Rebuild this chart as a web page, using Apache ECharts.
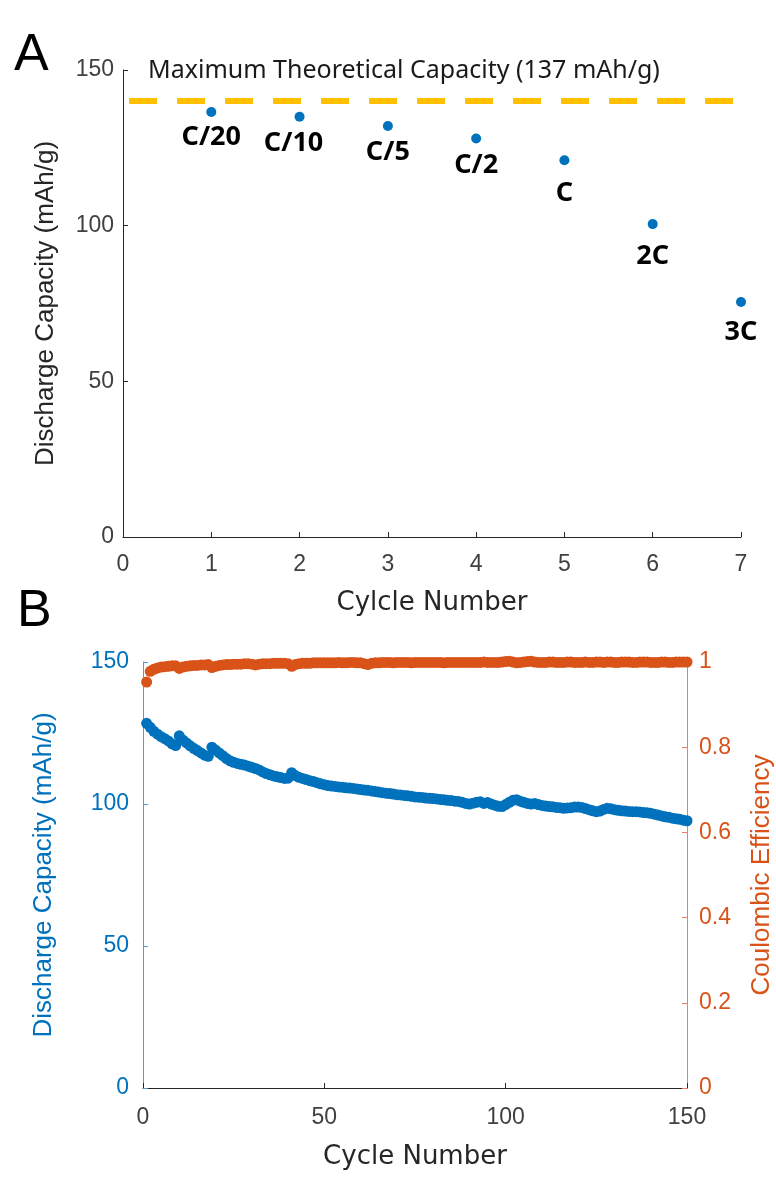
<!DOCTYPE html>
<html>
<head>
<meta charset="utf-8">
<title>Discharge capacity</title>
<script src="https://cdn.jsdelivr.net/npm/echarts@6/dist/echarts.min.js"></script>
<style>
  html, body { margin: 0; padding: 0; background: #fff; }
  #chart { width: 776px; height: 1180px; }
</style>
</head>
<body>
<div id="chart"></div>
<script>
// panel A: rate test
var rateLabels = ['C/20', 'C/10', 'C/5', 'C/2', 'C', '2C', '3C'];
var rateCycles = [1, 2, 3, 4, 5, 6, 7];
var rateCapacity = [136.5, 135, 132, 128, 121, 100.5, 75.5];
var theoreticalCapacity = 140;

// panel B: cycling, one value per cycle (cycle 1..150)
var cycleCapacity = [
  128.4, 127.0, 125.6, 124.6, 123.7, 123.0, 122.2, 121.2, 120.6, 124.0,
  122.5, 121.5, 120.5, 119.6, 118.8, 118.0, 117.2, 116.8, 120.0, 119.0,
  118.0, 117.0, 116.0, 115.2, 114.7, 114.3, 114.0, 113.7, 113.3, 112.9,
  112.5, 112.0, 111.3, 110.7, 110.3, 109.9, 109.6, 109.3, 109.0, 109.1,
  111.0, 110.0, 109.4, 109.0, 108.6, 108.2, 107.9, 107.5, 107.1, 106.8,
  106.5, 106.3, 106.2, 106.0, 105.9, 105.7, 105.6, 105.5, 105.3, 105.1,
  104.9, 104.8, 104.6, 104.4, 104.2, 104.0, 103.8, 103.7, 103.5, 103.3,
  103.2, 103.0, 102.9, 102.7, 102.5, 102.4, 102.3, 102.1, 102.0, 101.9,
  101.8, 101.6, 101.5, 101.3, 101.2, 101.0, 100.9, 100.6, 100.2, 100.0,
  100.3, 100.6, 100.8, 100.2, 100.5, 100.0, 99.6, 99.2, 99.1, 99.8,
  100.6, 101.3, 101.5, 101.0, 100.6, 100.2, 100.0, 100.2, 99.8, 99.5,
  99.3, 99.1, 99.0, 98.8, 98.7, 98.5, 98.6, 98.7, 98.9, 98.9,
  98.8, 98.4, 98.0, 97.6, 97.3, 97.5, 98.1, 98.5, 98.3, 98.0,
  97.8, 97.6, 97.5, 97.4, 97.3, 97.3, 97.2, 97.0, 96.9, 96.7,
  96.4, 96.1, 95.8, 95.5, 95.3, 95.0, 94.8, 94.6, 94.3, 94.1
];
var cycleEfficiency = [
  0.953, 0.978, 0.983, 0.986, 0.988, 0.989, 0.990, 0.991, 0.991, 0.985,
  0.988, 0.990, 0.991, 0.992, 0.992, 0.993, 0.993, 0.994, 0.987, 0.990,
  0.992, 0.993, 0.994, 0.994, 0.995, 0.995, 0.995, 0.996, 0.996, 0.995,
  0.993, 0.995, 0.996, 0.996, 0.996, 0.997, 0.997, 0.997, 0.997, 0.996,
  0.990, 0.994, 0.996, 0.997, 0.997, 0.997, 0.998, 0.998, 0.998, 0.998,
  0.998, 0.998, 0.998, 0.999, 0.998, 0.998, 0.999, 0.999, 0.998, 0.998,
  0.996, 0.994, 0.997, 0.998, 0.998, 0.999, 0.999, 0.999, 0.998, 0.999,
  0.999, 0.999, 0.999, 0.998, 0.999, 0.999, 0.999, 0.999, 0.999, 0.999,
  0.999, 0.999, 0.998, 0.999, 0.999, 0.999, 0.999, 0.999, 0.999, 0.999,
  0.999, 0.999, 0.999, 1.000, 0.999, 0.999, 0.999, 0.999, 1.000, 1.001,
  1.002, 1.000, 0.998, 0.999, 1.000, 1.001, 1.002, 1.000, 0.999, 0.999,
  0.999, 1.000, 1.000, 0.999, 0.999, 0.999, 1.000, 1.000, 0.999, 0.999,
  0.999, 1.000, 0.999, 0.999, 1.000, 1.000, 0.999, 1.000, 1.000, 0.999,
  0.999, 1.000, 1.000, 1.000, 0.999, 0.999, 1.000, 1.000, 1.000, 0.999,
  0.999, 0.999, 1.000, 1.000, 0.999, 0.999, 1.000, 1.000, 1.000, 1.000
];

var blue = '#0072BD';
var orange = '#D95319';
var axisGray = '#262626';
var font = 'Liberation Sans';
var wideFont = 'DejaVu Sans';

// label distance under each rate point
var labelGap = [7, 8, 8, 8, 15, 14, 12];

var rateData = rateCycles.map(function (c, i) {
  return {
    value: [c, rateCapacity[i]],
    label: { distance: labelGap[i], offset: i === 1 ? [-6, 0] : [0, 0] }
  };
});
var capData = cycleCapacity.map(function (v, i) { return [i + 1, v]; });
var effData = cycleEfficiency.map(function (v, i) { return [i + 1, v]; });

function valueAxis(extra) {
  var base = {
    type: 'value',
    axisLine: { show: true, lineStyle: { color: axisGray, width: 1 } },
    axisTick: { show: true, inside: true, length: 5, lineStyle: { color: axisGray } },
    axisLabel: { fontFamily: font, fontSize: 23, color: '#404040' },
    splitLine: { show: false },
    nameLocation: 'middle',
    nameTextStyle: { fontFamily: font, fontSize: 26, color: axisGray }
  };
  return echarts.util.merge(base, extra, true);
}

var chart = echarts.init(document.getElementById('chart'));
var option = {
  animation: false,
  backgroundColor: '#fff',
  grid: [
    { left: 123, right: 35, top: 70, height: 467, outerBoundsMode: 'none' },
    { left: 143, right: 89, top: 662, height: 426, outerBoundsMode: 'none' }
  ],
  xAxis: [
    valueAxis({
      gridIndex: 0, min: 0, max: 7, interval: 1,
      name: 'Cylcle Number', nameGap: 53,
      nameTextStyle: { fontFamily: wideFont },
      axisLabel: { margin: 16 }
    }),
    valueAxis({
      gridIndex: 1, min: 0, max: 150, interval: 50,
      name: 'Cycle Number', nameGap: 56,
      nameTextStyle: { fontFamily: wideFont },
      axisLabel: { margin: 18 }
    })
  ],
  yAxis: [
    valueAxis({
      gridIndex: 0, min: 0, max: 150, interval: 50,
      name: 'Discharge Capacity (mAh/g)', nameGap: 64, nameRotate: 90,
      axisLabel: { margin: 9 }
    }),
    valueAxis({
      gridIndex: 1, min: 0, max: 150, interval: 50, position: 'left',
      name: 'Discharge Capacity (mAh/g)', nameGap: 86, nameRotate: 90,
      nameTextStyle: { color: blue },
      axisLine: { lineStyle: { color: '#4A9FD8' } },
      axisTick: { lineStyle: { color: '#4A9FD8' } },
      axisLabel: { color: blue, margin: 14 }
    }),
    valueAxis({
      gridIndex: 1, min: 0, max: 1, interval: 0.2, position: 'right',
      name: 'Coulombic Efficiency', nameGap: 62, nameRotate: 90,
      nameTextStyle: { color: orange },
      axisLine: { lineStyle: { color: '#E8825A' } },
      axisTick: { lineStyle: { color: '#E8825A' } },
      axisLabel: { color: orange, margin: 12 }
    })
  ],
  graphic: [
    { type: 'text', left: 14, top: 30, style: { text: 'A', fontFamily: font, fontSize: 52, fill: '#000' } },
    { type: 'text', left: 17, top: 586, style: { text: 'B', fontFamily: font, fontSize: 52, fill: '#000' } },
    {
      type: 'text', left: 148, top: 58,
      style: { text: 'Maximum Theoretical Capacity (137 mAh/g)', fontFamily: 'Noto Sans', fontSize: 25, fill: '#1a1a1a' }
    }
  ],
  series: [
    {
      type: 'scatter',
      xAxisIndex: 0, yAxisIndex: 0,
      data: rateData,
      symbolSize: 10,
      itemStyle: { color: blue, opacity: 1 },
      label: {
        show: true,
        position: 'bottom',
        formatter: function (p) { return rateLabels[p.dataIndex]; },
        fontFamily: 'Noto Sans', fontWeight: 'bold', fontSize: 27, color: '#000'
      },
      markLine: {
        silent: true,
        symbol: 'none',
        label: { show: false },
        lineStyle: { color: '#FFC000', width: 6, type: [28, 20], dashOffset: 42 },
        data: [{ yAxis: theoreticalCapacity }]
      }
    },
    {
      type: 'scatter',
      xAxisIndex: 1, yAxisIndex: 1,
      data: capData,
      symbolSize: 11,
      clip: false,
      itemStyle: { color: blue, opacity: 1 }
    },
    {
      type: 'scatter',
      xAxisIndex: 1, yAxisIndex: 2,
      data: effData,
      symbolSize: 11,
      clip: false,
      itemStyle: { color: orange, opacity: 1 }
    }
  ]
};
chart.setOption(option);
</script>
</body>
</html>
